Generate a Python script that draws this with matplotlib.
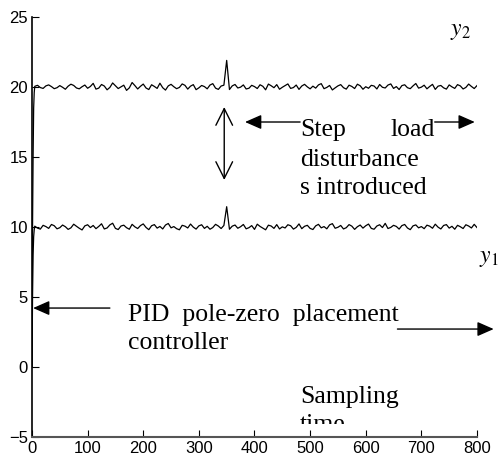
import matplotlib
matplotlib.use("Agg")
import matplotlib.pyplot as plt
from matplotlib.patches import Rectangle

# ---------------- data ----------------
t_start = [0, 1, 2, 3, 4]
t_main = list(range(5, 801, 5))
t = t_start + t_main

y2_start = [0.0, 10.0, 15.0, 18.5, 19.6]
y2_main = [
    20.05, 20.12, 19.96, 19.90, 20.08, 20.15, 20.03, 19.88, 19.95, 20.10,
    19.98, 19.84, 20.06, 20.20, 20.11, 19.93, 19.87, 20.02, 20.14, 19.91,
    20.04, 20.26, 19.85, 19.92, 20.18, 20.07, 19.80, 19.97, 20.29, 20.09,
    19.89, 20.01, 20.13, 19.76, 19.94, 20.32, 20.10, 19.86, 20.05, 20.21,
    19.93, 19.82, 20.16, 20.04, 19.90, 20.27, 19.95, 19.78, 20.08, 20.19,
    20.02, 19.88, 19.97, 20.22, 20.12, 19.85, 20.06, 20.17, 19.81, 19.94,
    20.11, 20.03, 19.87, 20.14, 20.24, 19.92, 19.83, 20.07, 20.13, 21.90,
    19.82, 20.08, 20.18, 19.93, 19.99, 20.15, 19.86, 19.91, 20.12, 20.03,
    19.89, 20.16, 20.05, 19.80, 20.21, 20.09, 19.95, 20.17, 19.84, 19.98,
    20.10, 20.22, 19.90, 19.96, 20.14, 19.83, 20.07, 20.19, 20.01, 19.87,
    20.06, 19.92, 20.15, 20.24, 19.88, 19.97, 20.11, 19.79, 19.94, 20.08,
    20.17, 19.95, 19.85, 20.13, 20.04, 19.89, 20.20, 20.09, 19.84, 20.02,
    19.91, 20.12, 20.07, 19.86, 20.18, 19.98, 19.93, 20.14, 20.22, 19.90,
    20.03, 19.82, 20.10, 20.16, 19.95, 19.88, 20.08, 20.25, 19.92, 19.99,
    20.13, 19.87, 20.04, 20.19, 19.83, 20.06, 20.11, 19.94, 19.85, 20.15,
    20.01, 19.90, 20.17, 20.08, 19.86, 19.97, 20.21, 20.04, 19.89, 20.10,
]
y2 = y2_start + y2_main

y1_start = [0.0, 5.0, 8.0, 9.3, 9.8]
y1_main = [
    10.06, 9.92, 9.85, 10.12, 10.03, 9.90, 10.18, 10.09, 9.87, 9.95,
    10.14, 10.02, 9.83, 9.94, 10.20, 10.05, 9.91, 9.79, 10.08, 10.16,
    9.96, 10.11, 9.88, 10.04, 10.23, 9.86, 9.93, 10.15, 10.27, 9.90,
    9.82, 10.07, 10.13, 9.95, 9.84, 10.19, 10.01, 9.89, 10.10, 10.22,
    9.97, 9.81, 10.09, 10.17, 9.92, 10.04, 9.86, 10.14, 10.25, 9.94,
    10.03, 9.88, 9.80, 10.12, 10.06, 9.93, 10.21, 9.99, 9.85, 10.08,
    10.16, 9.90, 10.05, 9.84, 9.96, 10.19, 10.07, 9.89, 10.11, 11.45,
    9.84, 10.06, 10.14, 9.91, 10.02, 10.18, 9.87, 9.95, 10.10, 9.83,
    10.20, 10.04, 9.92, 9.80, 10.13, 10.07, 9.90, 10.17, 9.86, 10.01,
    9.93, 10.16, 10.09, 9.85, 9.97, 10.22, 9.88, 10.05, 10.12, 9.90,
    9.82, 10.08, 10.19, 9.94, 10.03, 9.87, 10.15, 10.24, 9.91, 9.98,
    10.11, 9.86, 9.95, 10.17, 10.06, 9.83, 10.02, 10.14, 9.92, 10.09,
    10.21, 9.90, 9.84, 10.07, 10.16, 9.96, 10.26, 9.89, 9.97, 10.12,
    10.04, 9.85, 10.10, 10.18, 9.93, 9.81, 10.08, 10.15, 9.94, 10.03,
    9.88, 10.13, 10.06, 9.91, 10.20, 9.99, 9.86, 10.11, 10.17, 9.92,
    10.05, 9.84, 10.12, 10.02, 9.89, 10.16, 10.07, 9.93, 10.19, 9.96,
]
y1 = y1_start + y1_main

x_ticks = [0, 100, 200, 300, 400, 500, 600, 700, 800]
y_ticks = [-5, 0, 5, 10, 15, 20, 25]

# ---------------- figure ----------------
plt.rcParams['mathtext.fontset'] = 'stix'
fig = plt.figure(figsize=(4.99, 4.61), dpi=100)
ax = fig.add_axes([0.0641, 0.0521, 0.8918, 0.9110])

ax.plot(t, y2, color='black', lw=0.9)
ax.plot(t, y1, color='black', lw=0.9)

ax.set_xlim(0, 800)
ax.set_ylim(-5, 25)
ax.set_xticks(x_ticks)
ax.set_yticks(y_ticks)
ax.tick_params(direction='in', length=5, width=0.8, pad=3,
               labelsize=12, colors='black')
for lab in ax.get_xticklabels() + ax.get_yticklabels():
    lab.set_fontfamily('Liberation Sans')
ax.spines['top'].set_visible(False)
ax.spines['right'].set_visible(False)
ax.spines['left'].set_linewidth(1.2)
ax.spines['bottom'].set_linewidth(1.5)
ax.spines['bottom'].set_color('#555555')

serif = dict(family='Liberation Serif', fontsize=18.5, color='black')

# labels y2, y1
ax.text(752, 24.07, r'$y_2$', fontsize=17, va='center', ha='left', clip_on=False)
ax.text(804, 7.86, r'$y_1$', fontsize=17, va='center', ha='left', clip_on=False)

# Step load disturbances introduced
ax.text(482, 16.5, 'Step', ha='left', va='baseline', **serif)
ax.text(724, 16.5, 'load', ha='right', va='baseline', **serif)
ax.text(482, 14.36, 'disturbance', ha='left', va='baseline', **serif)
ax.text(482, 12.36, 's introduced', ha='left', va='baseline', **serif)

head = dict(arrowstyle='-|>,head_length=0.5,head_width=0.22', color='black',
            lw=1.0, shrinkA=0, shrinkB=0, mutation_scale=20)
ax.annotate('', xy=(383, 17.5), xytext=(482, 17.5), arrowprops=head,
            annotation_clip=False)
ax.annotate('', xy=(796, 17.5), xytext=(724, 17.5), arrowprops=head,
            annotation_clip=False)

# vertical double-headed arrow
ax.annotate('', xy=(345.6, 13.36), xytext=(345.6, 18.57),
            arrowprops=dict(arrowstyle='<->,head_length=0.6,head_width=0.3',
                            color='black', lw=1.0, shrinkA=0, shrinkB=0,
                            mutation_scale=20),
            annotation_clip=False)

# PID text and arrows
ax.text(173, 3.29, 'PID  pole-zero  placement', ha='left', va='baseline', **serif)
ax.text(173, 1.29, 'controller', ha='left', va='baseline', **serif)
ax.annotate('', xy=(2, 4.21), xytext=(140, 4.21), arrowprops=head,
            annotation_clip=False)
ax.annotate('', xy=(830, 2.71), xytext=(657, 2.71), arrowprops=head,
            annotation_clip=False)

# Sampling time (clipped)
ax.text(482, -2.57, 'Sampling', ha='left', va='baseline', **serif)
tm = ax.text(482, -4.57, 'time', ha='left', va='baseline', **serif)
clip = Rectangle((0, -4.05), 800, 30, transform=ax.transData,
                 fill=False, visible=False)
ax.add_patch(clip)
tm.set_clip_path(clip)
tm.set_clip_on(True)

fig.savefig('out.png', dpi=100)
